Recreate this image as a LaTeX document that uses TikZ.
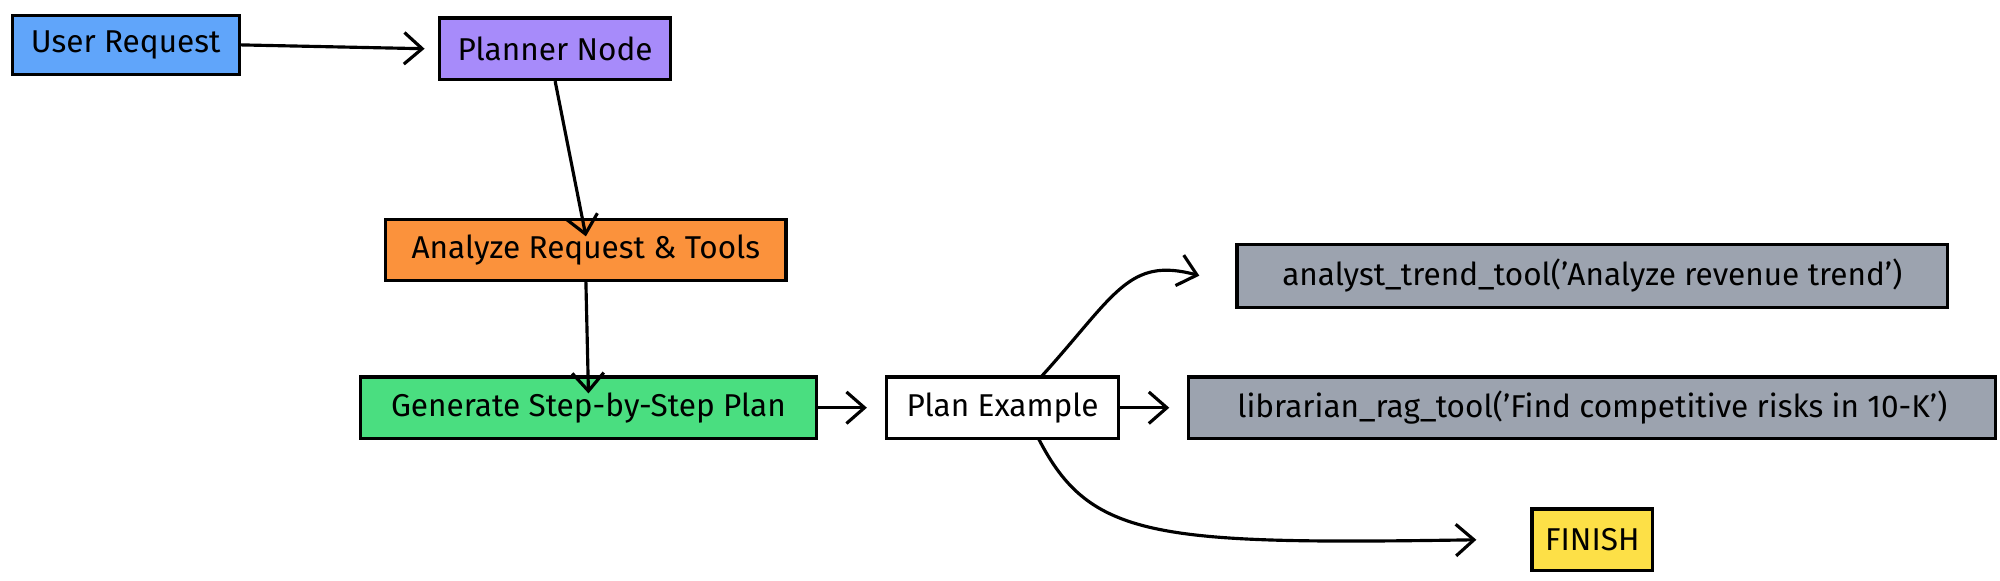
\documentclass[tikz,border=0pt]{standalone}
\usepackage{fontspec}
\setmainfont{Fira Sans}
\usetikzlibrary{arrows.meta}
\begin{document}
\begin{tikzpicture}[x=0.01cm,y=-0.01cm,
  box/.style={draw=black,line width=0.7pt,inner sep=0pt,font=\fontsize{7}{8}\selectfont,anchor=center},
  arr/.style={draw=black,line width=0.7pt,-{Straight Barb[length=4pt,width=7pt]}}]
\useasboundingbox (0,0) rectangle (1560,453);
\definecolor{cblue}{HTML}{60A5FA}
\definecolor{cpurp}{HTML}{A78BFA}
\definecolor{corng}{HTML}{FB923C}
\definecolor{cgreen}{HTML}{4ADE80}
\definecolor{cgray}{HTML}{9CA3AF}
\definecolor{cyel}{HTML}{FDE047}
\node[box,fill=cblue,minimum width=1.77cm,minimum height=0.46cm] (user) at (98,35) {User Request};
\node[box,fill=cpurp,minimum width=1.80cm,minimum height=0.48cm] (planner) at (433,38) {Planner Node};
\node[box,fill=corng,minimum width=3.12cm,minimum height=0.47cm] (analyze) at (457,195) {Analyze Request \& Tools};
\node[box,fill=cgreen,minimum width=3.56cm,minimum height=0.48cm] (gen) at (459,318) {Generate Step-by-Step Plan};
\node[box,fill=white,minimum width=1.81cm,minimum height=0.48cm] (plan) at (782,318) {Plan Example};
\node[box,fill=cgray,minimum width=5.54cm,minimum height=0.49cm] (trend) at (1242,215) {analyst\_trend\_tool('Analyze revenue trend')};
\node[box,fill=cgray,minimum width=6.29cm,minimum height=0.48cm] (rag) at (1242,318) {librarian\_rag\_tool('Find competitive risks in 10-K')};
\node[box,fill=cyel,minimum width=0.94cm,minimum height=0.48cm] (fin) at (1242,421) {FINISH};
\coordinate (pt) at (812,294);
\coordinate (pb) at (810,342);
\draw[arr] (user.east) -- ([xshift=-3]planner.west);
\draw[arr] (planner.south) -- ([yshift=-4]analyze.north);
\draw[arr] (analyze.south) -- ([yshift=-4]gen.north);
\draw[arr] (gen.east) -- ([xshift=-4]plan.west);
\draw[arr] (plan.east) -- ([xshift=-4]rag.west);
\draw[arr] (pt) .. controls (870,230) and (880,200) .. ([xshift=-8]trend.west);
\draw[arr] (pb) .. controls (850,420) and (900,425) .. ([xshift=-12]fin.west);
\end{tikzpicture}
\end{document}
